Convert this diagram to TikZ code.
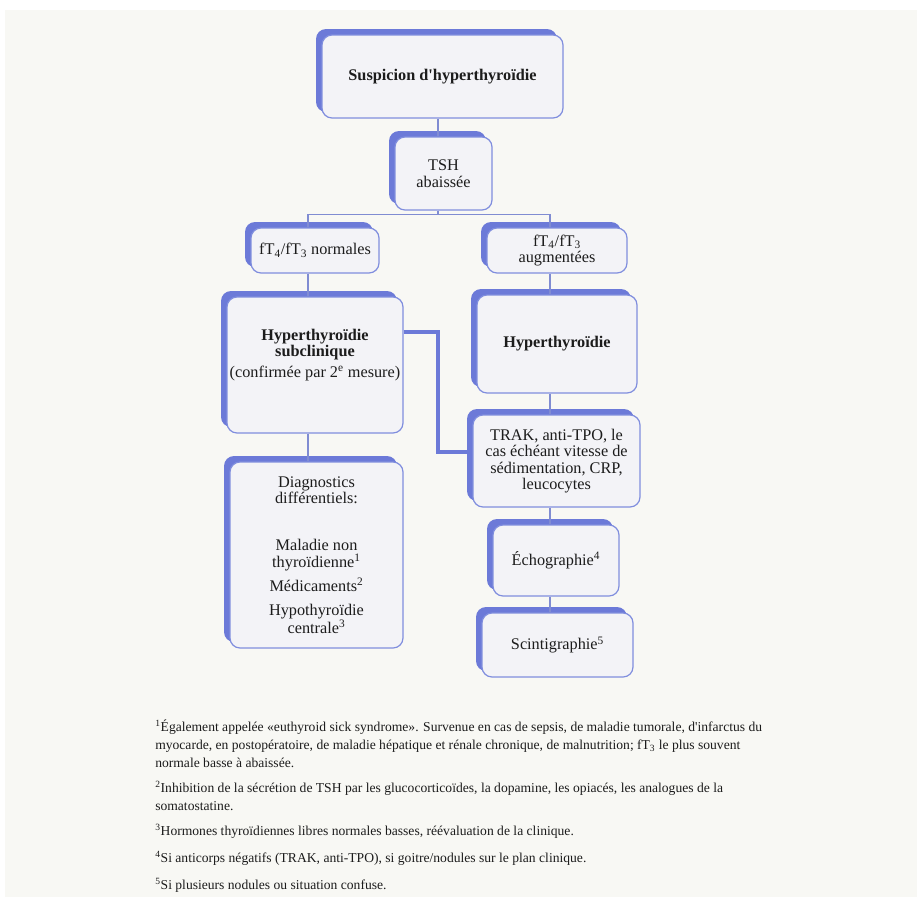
\documentclass[tikz,border=0pt]{standalone}
\usepackage{fontspec}
\setmainfont{Liberation Serif}
\usetikzlibrary{shadows,calc}
\definecolor{bg}{RGB}{248,248,244}
\definecolor{sh}{RGB}{108,122,216}
\definecolor{bx}{RGB}{243,243,247}
\definecolor{bd}{RGB}{128,142,222}
\definecolor{ln}{RGB}{128,140,210}
\definecolor{tx}{RGB}{28,28,28}
\begin{document}
\begin{tikzpicture}[x=0.75pt,y=-0.75pt,
  box/.style={draw=bd, line width=0.9pt, fill=bx, rounded corners=7.5pt, align=center, text=tx,
    font=\fontsize{12.2}{12.4}\selectfont, inner sep=2pt,
    general shadow={fill=sh, shadow xshift=-4.5pt, shadow yshift=4.5pt}},
  boxtext/.style={align=center, text=tx, font=\fontsize{12.2}{12.4}\selectfont, inner sep=0pt},
  conn/.style={draw=ln, line width=1.1pt},
  thk/.style={draw=sh, line width=3pt},
  fn/.style={anchor=base west, align=left, text=tx, font=\fontsize{10.2}{13.5}\selectfont, inner sep=0pt}]
\useasboundingbox (0,0) rectangle (917,897);
\fill[white] (0,0) rectangle (917,897);
\fill[bg] (5,10) rectangle (917,897);

\coordinate (lx) at (308,0);
\coordinate (cx) at (438,0);
\coordinate (rx) at (550,0);

\node[box, minimum width=180.75pt, minimum height=62.25pt, font=\bfseries\fontsize{12.2}{12.4}\selectfont] (susp) at (442.5,76.5) {Suspicion d\textquotesingle hyperthyroïdie};
\node[box, minimum width=72.75pt, minimum height=54.75pt] (tsh) at (443.5,173.5) {TSH\\abaissée};
\node[box, minimum width=96pt, minimum height=33.75pt] (norm) at (315,250.5) {fT\textsubscript{4}/fT\textsubscript{3} normales};
\node[box, minimum width=105pt, minimum height=33.75pt] (augm) at (557,250.5) {fT\textsubscript{4}/fT\textsubscript{3}\\augmentées};
\node[box, minimum width=132pt, minimum height=102pt] (subc) at (315,365) {};
\node[boxtext] (subct) at (315,355) {\textbf{Hyperthyroïdie}\\\textbf{subclinique}\\[3pt](confirmée par 2\textsuperscript{e} mesure)};
\node[box, minimum width=120pt, minimum height=73.5pt, font=\bfseries\fontsize{12.2}{12.4}\selectfont] (hyp) at (557,344) {Hyperthyroïdie};
\node[box, minimum width=125.25pt, minimum height=69pt] (trak) at (556.5,461) {TRAK, anti-TPO, le\\cas échéant vitesse de\\sédimentation, CRP,\\leucocytes};
\node[box, minimum width=129.75pt, minimum height=139.5pt] (diag) at (316.5,555) {Diagnostics\\différentiels:\\[23pt]Maladie non\\thyroïdienne\textsuperscript{1}\\[4.3pt]Médicaments\textsuperscript{2}\\[5.5pt]Hypothyroïdie\\centrale\textsuperscript{3}};
\node[box, minimum width=94.5pt, minimum height=53.25pt] (echo) at (556,560.5) {Échographie\textsuperscript{4}};
\node[box, minimum width=113.25pt, minimum height=48pt] (scin) at (557.5,645) {Scintigraphie\textsuperscript{5}};

\draw[conn] (cx |- susp.south) -- (cx |- tsh.north);
\draw[conn] (cx |- tsh.south) -- ++(0,4) -| (lx |- norm.north);
\draw[conn] (cx |- tsh.south) -- ++(0,4) -| (rx |- augm.north);
\draw[conn] (lx |- norm.south) -- (lx |- subc.north);
\draw[conn] (lx |- subc.south) -- (lx |- diag.north);
\draw[conn] (rx |- augm.south) -- (rx |- hyp.north);
\draw[conn] (rx |- hyp.south) -- (rx |- trak.north);
\draw[conn] (rx |- trak.south) -- (rx |- echo.north);
\draw[conn] (rx |- echo.south) -- (rx |- scin.north);

\coordinate (sout) at ([yshift=24.75pt]subc.east);
\coordinate (tin) at ([yshift=6.75pt]trak.west);
\draw[thk] (sout) -| (cx |- tin) -- (tin);

\node[fn] (fn1) at (155,767) {\textsuperscript{1}Également appelée «euthyroid sick syndrome». Survenue en cas de sepsis, de maladie tumorale, d\textquotesingle infarctus du\\myocarde, en postopératoire, de maladie hépatique et rénale chronique, de malnutrition; fT\textsubscript{3} le plus souvent\\normale basse à abaissée.};
\node[fn] (fn2) at (155,810) {\textsuperscript{2}Inhibition de la sécrétion de TSH par les glucocorticoïdes, la dopamine, les opiacés, les analogues de la\\somatostatine.};
\node[fn] (fn3) at (155,835) {\textsuperscript{3}Hormones thyroïdiennes libres normales basses, réévaluation de la clinique.};
\node[fn] (fn4) at (155,862) {\textsuperscript{4}Si anticorps négatifs (TRAK, anti-TPO), si goitre/nodules sur le plan clinique.};
\node[fn] (fn5) at (155,889) {\textsuperscript{5}Si plusieurs nodules ou situation confuse.};
\end{tikzpicture}
\end{document}
